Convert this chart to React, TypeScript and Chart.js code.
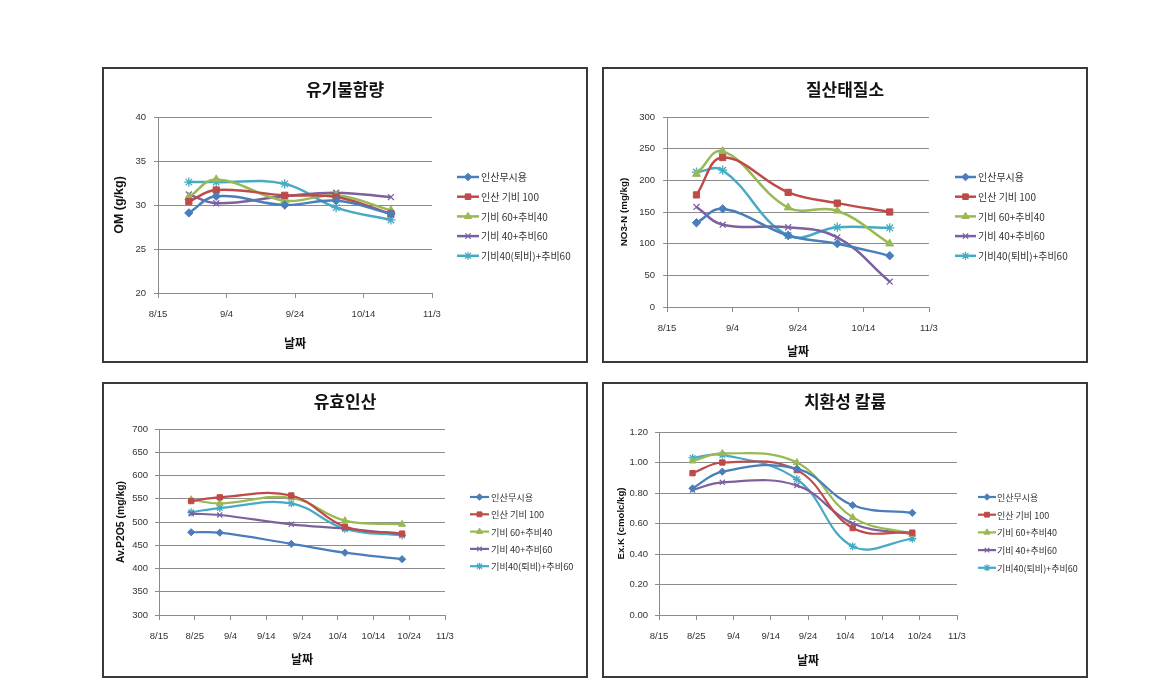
import React, { useEffect, useRef } from "react";
import { Chart, registerables } from "chart.js";
import { drawPoint } from "chart.js/helpers";

Chart.register(...registerables);

// ---------- data ----------
const seriesNames = ["인산무시용", "인산 기비 100", "기비 60+추비40", "기비 40+추비60", "기비40(퇴비)+추비60"];
const sampleDates = ["8/24", "9/1", "9/21", "10/6", "10/22"];

// 유기물함량 OM (g/kg)
const omNoP = [29.1, 31.0, 30.0, 30.5, 29.0];
const omBase100 = [30.4, 31.7, 31.1, 30.9, 29.0];
const omB60T40 = [30.9, 32.9, 30.5, 31.1, 29.4];
const omB40T60 = [31.2, 30.2, 31.0, 31.4, 30.9];
const omCompost = [32.6, 32.6, 32.4, 29.7, 28.3];

// 질산태질소 NO3-N (mg/kg)
const no3NoP = [133, 155, 113, 100, 81];
const no3Base100 = [177, 236, 181, 164, 150];
const no3B60T40 = [210, 246, 157, 152, 100];
const no3B40T60 = [158, 130, 126, 110, 40];
const no3Compost = [213, 216, 113, 126, 125];

// 유효인산 Av.P2O5 (mg/kg)
const pNoP = [478, 477, 453, 434, 420];
const pBase100 = [545, 553, 557, 490, 475];
const pB60T40 = [548, 540, 552, 503, 495];
const pB40T60 = [518, 515, 495, 486, 474];
const pCompost = [521, 530, 540, 485, 471];

// 치환성 칼륨 Ex.K (cmolc/kg)
const kNoP = [0.83, 0.94, 0.96, 0.72, 0.67];
const kBase100 = [0.93, 1.0, 0.95, 0.57, 0.54];
const kB60T40 = [1.01, 1.06, 1.0, 0.64, 0.53];
const kB40T60 = [0.82, 0.87, 0.85, 0.6, 0.53];
const kCompost = [1.03, 1.05, 0.89, 0.45, 0.5];

// ---------- styles ----------
const seriesColors = ["#4A7EBB", "#BE4B48", "#98B954", "#7D60A0", "#46AAC5"];
const seriesMarkers = ["rectRot", "rect", "triangle", "crossRot", "star"];
const markerScale = [1.0, 1.05, 1.1, 1.0, 1.1];
const GRID = "#8c8c8c";
const KFONT = "'Noto Sans CJK KR', 'Noto Sans', sans-serif";
const TFONT = "'Liberation Sans', Arial, sans-serif";

// month start offsets relative to 8/15 (day 0)
const monthOffset: Record<number, number> = { 8: -15, 9: 16, 10: 46, 11: 77 };
function dayOffset(md: string): number {
  const [m, d] = md.split("/").map(Number);
  return monthOffset[m] + d;
}
function dayLabel(v: number): string {
  const months = [11, 10, 9, 8];
  for (const m of months) {
    const d = v - monthOffset[m];
    if (d >= 1) return `${m}/${d}`;
  }
  return "";
}

const W = 486;
const H = 296;

type PanelCfg = {
  left: number;
  top: number;
  title: string;
  titleY: number;
  yTitle: string;
  yTitleX: number;
  yTitleSize: number;
  xTitleY: number;
  yMin: number;
  yMax: number;
  yStep: number;
  yDecimals: number;
  xStep: number;
  values: number[][];
  plot: { l: number; t: number; r: number; b: number };
  legend: { x0: number; x1: number; tx: number; y0: number; dy: number; font: number };
  lineWidth: number;
  radius: number;
  yPad: number;
};

const panels: PanelCfg[] = [
  {
    left: 102, top: 67, title: "유기물함량", titleY: 23, yTitle: "OM (g/kg)", yTitleX: 18, yTitleSize: 12.5, xTitleY: 276,
    yMin: 20, yMax: 40, yStep: 5, yDecimals: 0, xStep: 20,
    values: [omNoP, omBase100, omB60T40, omB40T60, omCompost],
    plot: { l: 56, t: 50, r: 330, b: 226 },
    legend: { x0: 355, x1: 377, tx: 379, y0: 110, dy: 19.7, font: 10 },
    lineWidth: 2.5, radius: 4.2, yPad: 8,
  },
  {
    left: 602, top: 67, title: "질산태질소", titleY: 23, yTitle: "NO3-N (mg/kg)", yTitleX: 22, yTitleSize: 9.8, xTitleY: 284,
    yMin: 0, yMax: 300, yStep: 50, yDecimals: 0, xStep: 20,
    values: [no3NoP, no3Base100, no3B60T40, no3B40T60, no3Compost],
    plot: { l: 65, t: 50, r: 327, b: 240 },
    legend: { x0: 353, x1: 374, tx: 376, y0: 110, dy: 19.7, font: 10 },
    lineWidth: 2.5, radius: 4.2, yPad: 8,
  },
  {
    left: 102, top: 382, title: "유효인산", titleY: 20, yTitle: "Av.P2O5 (mg/kg)", yTitleX: 19, yTitleSize: 10.4, xTitleY: 277,
    yMin: 300, yMax: 700, yStep: 50, yDecimals: 0, xStep: 10,
    values: [pNoP, pBase100, pB60T40, pB40T60, pCompost],
    plot: { l: 57, t: 47, r: 343, b: 233 },
    legend: { x0: 368, x1: 387, tx: 389, y0: 115, dy: 17.3, font: 9.2 },
    lineWidth: 2.2, radius: 3.6, yPad: 7,
  },
  {
    left: 602, top: 382, title: "치환성 칼륨", titleY: 20, yTitle: "Ex.K (cmolc/kg)", yTitleX: 19, yTitleSize: 9.6, xTitleY: 278,
    yMin: 0, yMax: 1.2, yStep: 0.2, yDecimals: 2, xStep: 10,
    values: [kNoP, kBase100, kB60T40, kB40T60, kCompost],
    plot: { l: 57, t: 50, r: 355, b: 233 },
    legend: { x0: 376, x1: 394, tx: 395, y0: 115, dy: 17.7, font: 9 },
    lineWidth: 2.2, radius: 3.6, yPad: 7,
  },
];

function Panel({ cfg }: { cfg: PanelCfg }) {
  const ref = useRef<HTMLCanvasElement | null>(null);
  useEffect(() => {
    const canvas = ref.current;
    if (!canvas) return;
    const xs = sampleDates.map(dayOffset);
    const datasets = cfg.values.map((vals, i) => ({
      label: seriesNames[i],
      data: vals.map((v, j) => ({ x: xs[j], y: v })),
      borderColor: seriesColors[i],
      backgroundColor: seriesColors[i],
      pointBackgroundColor: seriesColors[i],
      pointBorderColor: seriesColors[i],
      pointStyle: seriesMarkers[i] as any,
      pointRadius: cfg.radius * markerScale[i],
      pointBorderWidth: i >= 3 ? 1.3 : 1,
      borderWidth: cfg.lineWidth,
      tension: 0.4,
      clip: false as any,
    }));

    const deco = {
      id: "deco",
      afterDraw(chart: any) {
        const ctx = chart.ctx as CanvasRenderingContext2D;
        ctx.save();
        // border
        ctx.strokeStyle = "#3a3a3a";
        ctx.lineWidth = 2;
        ctx.strokeRect(1, 1, W - 2, H - 2);
        // title
        ctx.fillStyle = "#111";
        ctx.textAlign = "center";
        ctx.textBaseline = "middle";
        ctx.font = `bold 17px ${KFONT}`;
        ctx.fillText(cfg.title, W / 2, cfg.titleY);
        // x title
        ctx.font = `bold 12px ${KFONT}`;
        ctx.fillText("날짜", (cfg.plot.l + cfg.plot.r) / 2, cfg.xTitleY);
        // y title
        ctx.save();
        ctx.translate(cfg.yTitleX, (cfg.plot.t + cfg.plot.b) / 2);
        ctx.rotate(-Math.PI / 2);
        ctx.font = `bold ${cfg.yTitleSize}px ${TFONT}`;
        ctx.fillText(cfg.yTitle, 0, 0);
        ctx.restore();
        // legend
        const lg = cfg.legend;
        ctx.textAlign = "left";
        ctx.font = `${lg.font}px ${KFONT}`;
        seriesNames.forEach((name, i) => {
          const y = lg.y0 + i * lg.dy;
          ctx.strokeStyle = seriesColors[i];
          ctx.fillStyle = seriesColors[i];
          ctx.lineWidth = cfg.lineWidth;
          ctx.beginPath();
          ctx.moveTo(lg.x0, y);
          ctx.lineTo(lg.x1, y);
          ctx.stroke();
          ctx.lineWidth = i >= 3 ? 1.2 : 1;
          drawPoint(ctx, { pointStyle: seriesMarkers[i] as any, radius: cfg.radius * 0.9 * markerScale[i], rotation: 0, borderWidth: 1 } as any, (lg.x0 + lg.x1) / 2, y);
          ctx.fillStyle = "#333";
          ctx.fillText(name, lg.tx, y + 0.5);
        });
        ctx.restore();
      },
    };

    const chart = new Chart(canvas, {
      type: "line",
      data: { datasets: datasets as any },
      options: {
        responsive: false,
        animation: false,
        events: [],
        layout: { padding: { left: 0, top: cfg.plot.t, right: W - cfg.plot.r, bottom: 0 } },
        plugins: { legend: { display: false }, title: { display: false }, tooltip: { enabled: false } },
        scales: {
          x: {
            type: "linear",
            min: 0,
            max: 80,
            ticks: {
              stepSize: cfg.xStep,
              autoSkip: false,
              maxRotation: 0,
              padding: 10.5,
              color: "#333",
              font: { family: TFONT, size: 9.5 },
              callback: (v: any) => dayLabel(Number(v)),
            },
            grid: { display: true, drawOnChartArea: false, drawTicks: true, tickLength: 5, color: GRID },
            border: { display: true, color: GRID, width: 1 },
            afterFit: (s: any) => {
              s.height = H - cfg.plot.b;
            },
          },
          y: {
            min: cfg.yMin,
            max: cfg.yMax,
            ticks: {
              stepSize: cfg.yStep,
              padding: cfg.yPad,
              color: "#333",
              font: { family: TFONT, size: 9.5 },
              callback: (v: any) => Number(v).toFixed(cfg.yDecimals),
            },
            grid: { color: GRID, tickLength: 4, lineWidth: 1 },
            border: { display: true, color: GRID, width: 1 },
            afterFit: (s: any) => {
              s.width = cfg.plot.l;
            },
          },
        },
      },
      plugins: [deco],
    } as any);
    return () => chart.destroy();
  }, [cfg]);

  return (
    <canvas
      ref={ref}
      width={W}
      height={H}
      style={{ position: "absolute", left: cfg.left, top: cfg.top, width: W, height: H }}
    />
  );
}

export default function App() {
  return (
    <div style={{ position: "absolute", left: 0, top: 0, width: 1172, height: 692, background: "#fff" }}>
      {panels.map((p, i) => (
        <Panel key={i} cfg={p} />
      ))}
    </div>
  );
}
